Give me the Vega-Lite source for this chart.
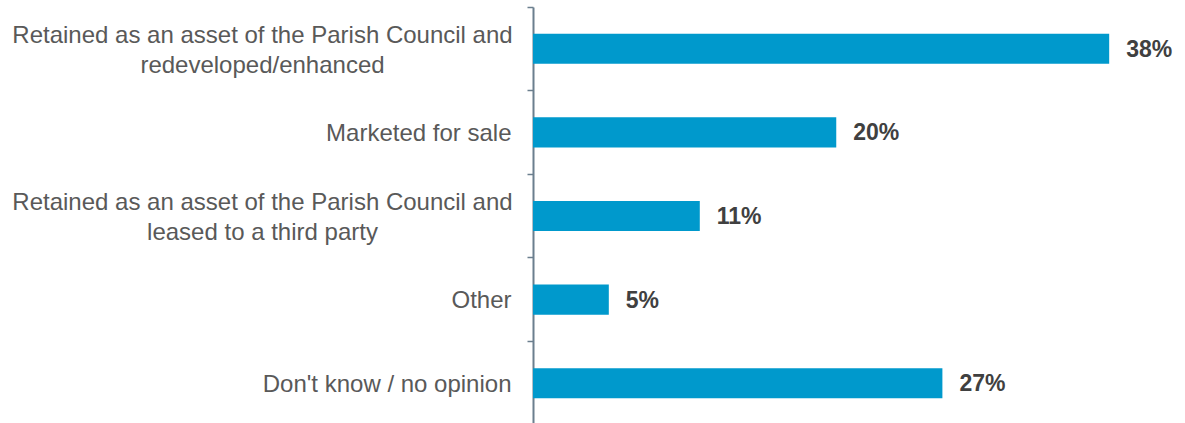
{
  "$schema": "https://vega.github.io/schema/vega-lite/v6.json",
  "autosize": {"type": "none"},
  "padding": {"left": 533, "top": 7, "right": 0, "bottom": 0},
  "width": 652,
  "height": 418,
  "background": "white",
  "data": {"values": [
    {"option": "Retained as an asset of the Parish Council and|redeveloped/enhanced", "pct": 0.38},
    {"option": "Marketed for sale", "pct": 0.20},
    {"option": "Retained as an asset of the Parish Council and|leased to a third party", "pct": 0.11},
    {"option": "Other", "pct": 0.05},
    {"option": "Don't know / no opinion", "pct": 0.27}
  ]},
  "encoding": {
    "y": {
      "field": "option", "type": "nominal", "sort": null,
      "scale": {"paddingInner": 0, "paddingOuter": 0},
      "axis": {
        "title": null,
        "bandPosition": 0,
        "labelOffset": {"condition": {"test": "indexof(datum.value, '|') >= 0", "value": -13}, "value": 1.5},
        "labelAlign": {"condition": {"test": "indexof(datum.value, '|') >= 0", "value": "center"}, "value": "right"},
        "labelPadding": {"condition": {"test": "indexof(datum.value, '|') >= 0", "value": 265}, "value": 16},
        "labelExpr": "split(datum.label, '|')",
        "labelFont": "Liberation Sans",
        "labelFontSize": 24,
        "labelLineHeight": 30,
        "labelColor": "#595959",
        "labelLimit": 0,
        "tickSize": 6,
        "tickColor": "#6b7f8e",
        "tickWidth": 1.5,
        "domainColor": "#6b7f8e",
        "domainWidth": 2,
        "grid": false
      }
    },
    "x": {
      "field": "pct", "type": "quantitative",
      "scale": {"domain": [0, 0.43]},
      "axis": null
    }
  },
  "layer": [
    {"mark": {"type": "bar", "color": "#0099cc", "height": {"band": 0.36}}},
    {
      "mark": {"type": "text", "align": "left", "baseline": "middle", "dx": 17, "dy": 1, "font": "Liberation Sans", "fontSize": 23, "fontWeight": "bold", "color": "#404040"},
      "encoding": {"text": {"field": "pct", "type": "quantitative", "format": ".0%"}}
    }
  ],
  "config": {"view": {"stroke": null}}
}
